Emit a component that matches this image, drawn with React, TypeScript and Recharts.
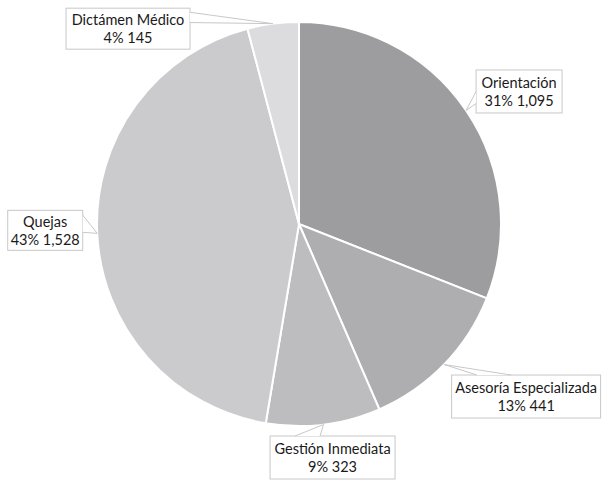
import React from "react";
import { PieChart, Pie, Cell } from "recharts";

const categories = ["Orientación", "Asesoría Especializada", "Gestión Inmediata", "Quejas", "Dictámen Médico"];
const values = [1095, 441, 323, 1528, 145];
const COLORS = ["#9d9d9f", "#aeaeb0", "#bdbdbf", "#cbcbcd", "#dcdcde"];

// callout layout: box center offset from the anchor on the rim, box size, side where the tail sits
const CALLOUTS = [
    { dx: 53, dy: -19, w: 86, h: 43, side: "left", f: [0.5, 0.78] },
    { dx: 82, dy: 32, w: 149, h: 43, side: "top", f: [0.17, 0.4] },
    { dx: 9, dy: 33, w: 125, h: 43, side: "top", f: [0.2, 0.4] },
    { dx: -52, dy: -3, w: 75, h: 40, side: "right", f: [0.12, 0.55] },
    { dx: -145, dy: 5, w: 124, h: 41, side: "right", f: [0.1, 0.35] },
];

const data = categories.map((name, i) => ({ name, value: values[i] }));

// whole percentages that add up to 100 (largest remainder)
const total = values.reduce((a, b) => a + b, 0);
const rawPct = values.map((v) => (v / total) * 100);
const pct = rawPct.map(Math.floor);
rawPct
    .map((p, i) => ({ i, r: p - Math.floor(p) }))
    .sort((a, b) => b.r - a.r)
    .slice(0, 100 - pct.reduce((a, b) => a + b, 0))
    .forEach(({ i }) => (pct[i] += 1));

const RAD = Math.PI / 180;

function Callout(props: any) {
    const { cx, cy, midAngle, outerRadius, index, value, name } = props;
    const c = CALLOUTS[index];
    const ax = cx + outerRadius * Math.cos(-midAngle * RAD);
    const ay = cy + outerRadius * Math.sin(-midAngle * RAD);
    const bx = ax + c.dx - c.w / 2;
    const by = ay + c.dy - c.h / 2;
    let p0: number[], p1: number[];
    if (c.side === "left" || c.side === "right") {
        const sx = c.side === "left" ? bx : bx + c.w;
        p0 = [sx, by + c.h * c.f[0]];
        p1 = [sx, by + c.h * c.f[1]];
    } else {
        const sy = c.side === "top" ? by : by + c.h;
        p0 = [bx + c.w * c.f[0], sy];
        p1 = [bx + c.w * c.f[1], sy];
    }
    const border = "#c8c8c8";
    const tx = bx + c.w / 2;
    const ty = by + c.h / 2;
    return (
        <g>
            <rect x={bx} y={by} width={c.w} height={c.h} fill="#fff" stroke={border} strokeWidth={1} />
            <polygon points={`${p0[0]},${p0[1]} ${p1[0]},${p1[1]} ${ax},${ay}`} fill="#fff" stroke="none" />
            <line x1={p0[0]} y1={p0[1]} x2={ax} y2={ay} stroke={border} strokeWidth={1} />
            <line x1={p1[0]} y1={p1[1]} x2={ax} y2={ay} stroke={border} strokeWidth={1} />
            <text x={tx} y={ty - 9} textAnchor="middle" dominantBaseline="central" fontSize={14.5} fill="#1a1a1a">
                {name}
            </text>
            <text x={tx} y={ty + 9} textAnchor="middle" dominantBaseline="central" fontSize={14.5} fill="#1a1a1a">
                {`${pct[index]}% ${value.toLocaleString("en-US")}`}
            </text>
        </g>
    );
}

export default function App() {
    return (
        <div style={{ position: "absolute", left: 0, top: 0, width: 602, height: 483, background: "#fff", fontFamily: "Lato, 'Open Sans', sans-serif" }}>
            <PieChart width={602} height={483} margin={{ top: 0, right: 0, bottom: 0, left: 0 }}>
                <Pie
                    data={data}
                    dataKey="value"
                    nameKey="name"
                    cx={299}
                    cy={224}
                    outerRadius={202}
                    startAngle={90}
                    endAngle={-270}
                    stroke="#fff"
                    strokeWidth={2}
                    label={Callout}
                    labelLine={false}
                    isAnimationActive={false}
                >
                    {data.map((_, idx) => (
                        <Cell key={idx} fill={COLORS[idx]} />
                    ))}
                </Pie>
            </PieChart>
        </div>
    );
}
